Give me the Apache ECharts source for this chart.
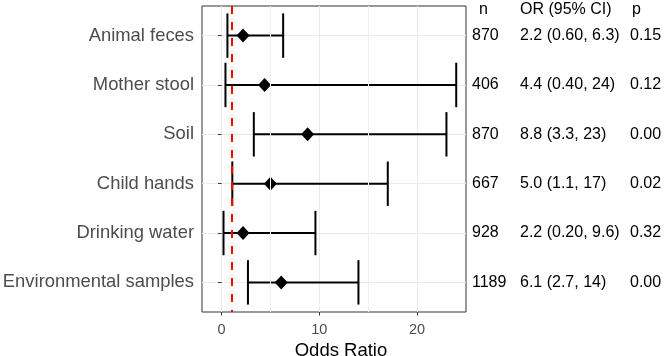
<!DOCTYPE html>
<html>
<head>
<meta charset="utf-8">
<script src="https://cdn.jsdelivr.net/npm/echarts@6/dist/echarts.min.js"></script>
<style>
  html, body { margin: 0; padding: 0; background: #fff; }
  #chart { width: 664px; height: 356px; }
</style>
</head>
<body>
<div id="chart"></div>
<script>
// forest plot data, top to bottom
const categories = ['Animal feces', 'Mother stool', 'Soil', 'Child hands', 'Drinking water', 'Environmental samples'];
const estimates = [2.2, 4.4, 8.8, 5.0, 2.2, 6.1];
const lower = [0.60, 0.40, 3.3, 1.1, 0.20, 2.7];
const upper = [6.3, 24, 23, 17, 9.6, 14];
const nCol = ['870', '406', '870', '667', '928', '1189'];
const orCol = ['2.2 (0.60, 6.3)', '4.4 (0.40, 24)', '8.8 (3.3, 23)', '5.0 (1.1, 17)', '2.2 (0.20, 9.6)', '6.1 (2.7, 14)'];
const pCol = ['0.15', '0.12', '0.00', '0.02', '0.32', '0.00'];
const xTicks = [0, 10, 20];
const xMinorGrid = [5, 15];
const refLine = 1;

const FONT = '"Liberation Sans", Arial, Helvetica, sans-serif';
const rows = categories.map((c, i) => i + 1);

const chart = echarts.init(document.getElementById('chart'), null, { renderer: 'canvas' });

// one extra y axis per text column on the right
function tableAxis(col, offset) {
    return {
        type: 'value', position: 'right', offset: offset, inverse: true,
        min: 0.4, max: 6.6,
        axisLine: { show: false }, axisTick: { show: false }, splitLine: { show: false },
        axisLabel: {
            customValues: rows, margin: 6, color: '#000', fontSize: 16, fontFamily: FONT,
            formatter: v => col[Math.round(v) - 1]
        }
    };
}

const option = {
    animation: false,
    backgroundColor: '#fff',
    grid: {
        left: 202, top: 6, right: 198, bottom: 44,
        outerBoundsMode: 'none', containLabel: false,
        show: true, borderColor: '#333', borderWidth: 1, backgroundColor: '#fff'
    },
    xAxis: {
        type: 'value', min: -2, max: 25,
        name: 'Odds Ratio', nameLocation: 'middle', nameGap: 28,
        nameTextStyle: { color: '#000', fontSize: 18.5, fontFamily: FONT, padding: [0, 0, 0, 14] },
        axisLine: { show: false },
        axisTick: { customValues: xTicks, length: 3.5, lineStyle: { color: '#333' } },
        axisLabel: { customValues: xTicks, margin: 10, color: '#4d4d4d', fontSize: 14.5, fontFamily: FONT },
        splitLine: { show: true, lineStyle: { color: '#ebebeb', width: 1 } }
    },
    yAxis: [
        {
            type: 'value', inverse: true, min: 0.4, max: 6.6,
            axisLine: { show: false },
            axisTick: { customValues: rows, length: 3.5, lineStyle: { color: '#333' } },
            axisLabel: {
                customValues: rows, margin: 8, color: '#4d4d4d', fontSize: 18.4, fontFamily: FONT,
                formatter: v => categories[Math.round(v) - 1]
            },
            splitLine: { show: true, lineStyle: { color: '#ebebeb', width: 1 } }
        },
        tableAxis(nCol, 0),
        tableAxis(orCol, 48),
        tableAxis(pCol, 158)
    ],
    graphic: [
        { type: 'text', left: 479, top: 2, style: { text: 'n', fill: '#000', font: '16px ' + FONT } },
        { type: 'text', left: 520, top: 2, style: { text: 'OR (95% CI)', fill: '#000', font: '16px ' + FONT } },
        { type: 'text', left: 632, top: 2, style: { text: 'p', fill: '#000', font: '16px ' + FONT } }
    ],
    series: [
        {
            // minor vertical gridlines
            type: 'scatter', data: [], z: 1, silent: true,
            markLine: {
                silent: true, symbol: 'none', label: { show: false },
                lineStyle: { color: '#f0f0f0', width: 1, type: 'solid' },
                data: xMinorGrid.map(v => ({ xAxis: v }))
            }
        },
        {
            type: 'custom', z: 3,
            data: rows.map((r, i) => [r, lower[i], upper[i]]),
            encode: { y: 0, x: [1, 2] },
            renderItem: function (params, api) {
                const y = api.value(0);
                const a = api.coord([api.value(1), y]);
                const b = api.coord([api.value(2), y]);
                const h = api.size([0, 0.9])[1] / 2;
                const style = { stroke: '#000', lineWidth: 2 };
                return {
                    type: 'group',
                    children: [
                        { type: 'line', shape: { x1: a[0], y1: a[1], x2: b[0], y2: b[1] }, style: style },
                        { type: 'line', shape: { x1: a[0], y1: a[1] - h, x2: a[0], y2: a[1] + h }, style: style },
                        { type: 'line', shape: { x1: b[0], y1: b[1] - h, x2: b[0], y2: b[1] + h }, style: style }
                    ]
                };
            }
        },
        {
            type: 'scatter', z: 4,
            symbol: 'diamond', symbolSize: [13, 14],
            itemStyle: { color: '#000', opacity: 1 },
            data: rows.map((r, i) => [estimates[i], r]),
            markLine: {
                silent: true, symbol: 'none', label: { show: false },
                lineStyle: { color: '#ff0000', width: 2, type: [8, 8] },
                data: [{ xAxis: refLine }]
            }
        }
    ]
};

chart.setOption(option);
</script>
</body>
</html>
